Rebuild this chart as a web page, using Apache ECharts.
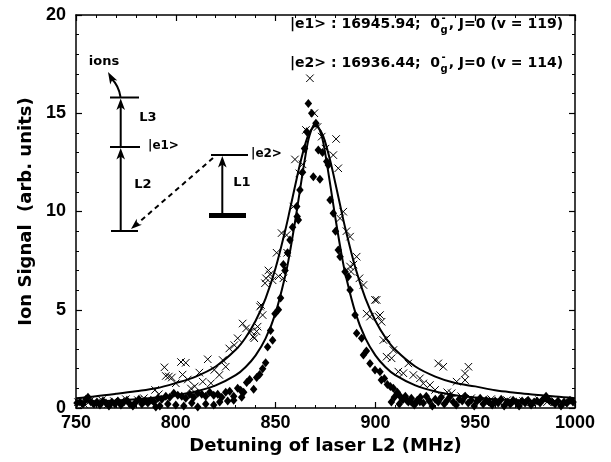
<!DOCTYPE html>
<html><head><meta charset="utf-8">
<script src="https://cdn.jsdelivr.net/npm/echarts@6/dist/echarts.min.js"></script>
<style>html,body{margin:0;padding:0;background:#fff}#c{width:611px;height:462px}</style>
</head><body><div id="c"></div>
<script>
// ---- tick labels ----
const xTicks = [750, 800, 850, 900, 950, 1000];
const yTicks = [0, 5, 10, 15, 20];

// ---- measured points: crosses (x) ----
const crossPts = [
[751,0.3],[754,0.2],[757,0.35],[760,0.25],[763,0.4],[766,0.2],[769,0.35],[772,0.3],[775,0.45],[778,0.25],
[781,0.4],[784,0.5],[787,0.35],[789.6,0.92],[791.5,0.7],[794.3,2.07],[795,1.63],[796.5,1.6],[798,1.55],[800,1.26],
[802.6,2.34],[803.4,1.7],[805,2.3],[806,1.45],[807.6,0.99],[809.5,1.1],[811.8,1.8],[813.5,1.34],[816,2.48],[817.6,1.26],
[819.3,1.94],[821.8,1.68],[823.5,2.44],[825,2.1],[826.8,3.03],[829.3,3.2],[831,3.55],[833.5,4.3],[835.2,4.05],[837.7,3.9],
[838.8,3.63],[839.3,3.55],[840.5,3.9],[841,4.14],[842.2,5.16],[842.7,5.24],[843.5,4.73],[844.7,6.35],[845.2,6.6],[846.4,7.0],
[847.2,6.8],[848.5,6.5],[850.5,7.9],[851.5,6.7],[853,8.9],[853.9,6.6],[855.5,8.8],[855.8,7.9],[858.9,10.25],[859.7,12.65],
[861.9,11.94],[863.5,12.4],[865.2,14.15],[867.2,16.78],[869.4,15.0],[871,14.3],[873.1,13.81],[875,13.2],[878.9,12.87],[880.3,13.69],
[881.4,12.2],[882.3,9.65],[883.9,9.99],[885.5,9.0],[887.3,8.72],[887.3,7.2],[889,7.3],[887.8,6.94],[890.6,7.7],[892,6.6],
[894,6.26],[895.6,4.8],[897.3,4.65],[899.8,5.5],[900.6,5.5],[901.5,4.65],[902.3,4.73],[903.1,4.39],[904,3.46],[905.6,3.54],
[905.6,2.61],[908.1,2.53],[909,2.95],[911.5,1.85],[914,1.77],[916.5,2.27],[919,1.68],[922.3,1.51],[924,1.25],[927.3,1.17],
[929.9,0.92],[931.5,2.27],[934,2.1],[936,0.8],[938.2,0.75],[940.7,1.34],[943,0.6],[944.9,1.76],[944.9,1.42],[946.6,2.1],
[948,0.5],[951,0.4],[955,0.3],[958,0.45],[962,0.3],[966,0.4],[970,0.25],[974,0.35],[978,0.3],[982,0.4],
[986,0.3],[990,0.35],[994,0.25],[998,0.3]
];

// ---- measured points: diamonds ----
const diamondPts = [
[750.5,0.25],[752,0.3],[753.5,0.2],[755,0.45],[756,0.55],[757.5,0.3],[759,0.2],[760.5,0.3],[762,0.15],[763.5,0.35],
[765,0.25],[766.5,0.1],[768,0.3],[769.5,0.2],[771,0.35],[772.5,0.15],[774,0.3],[775.5,0.4],[777,0.2],[778.5,0.1],
[780,0.3],[781.5,0.45],[783,0.2],[784.5,0.35],[786,0.25],[787.5,0.4],[789,0.3],[790,0.05],[792,0.1],[796,0.2],
[800,0.15],[804,0.1],[808,0.25],[811,0.05],[815,0.2],[819,0.15],[822,0.3],[826,0.35],[829,0.4],[833,0.55],
[791,0.5],[793,0.45],[795,0.6],[797,0.55],[799,0.75],[801,0.65],[803,0.6],[805,0.5],[807,0.7],[809,0.55],
[811,0.75],[813,0.7],[815,0.6],[817,0.8],[819,0.65],[821,0.7],[823,0.55],[825,0.8],[827,0.85],[829,0.6],
[831,1.0],[832.5,0.9],[834,0.8],[835.5,1.3],[837,1.45],[839,0.95],[840.5,1.55],[842,1.7],[843.5,2.0],[845,2.3],
[846,3.1],[847.5,3.95],[848.5,3.45],[849.7,4.8],[851.4,5.0],[852.5,5.6],[853.9,7.3],[854.7,7.0],[856,7.9],[857.2,8.55],
[858.5,9.2],[860.6,10.25],[860.8,9.74],[861.4,9.57],[862.2,11.1],[863.5,12.0],[864.5,13.2],[865.6,14.06],[866.4,15.5],[868.1,15.0],
[868.9,11.77],[870.2,14.49],[871.4,13.13],[872.2,11.64],[873.5,13.0],[875.6,12.54],[876.4,12.37],[877.3,10.59],[878.9,9.91],[880,9.0],
[881.4,8.04],[882.3,7.7],[884.8,6.94],[886.4,6.68],[887.3,6.0],[889.8,4.73],[890.6,3.8],[893.1,3.55],[894,2.7],[895.5,2.9],
[897.3,2.27],[899.8,1.93],[902.3,1.85],[903,1.42],[904.5,1.5],[906,1.2],[907.5,1.1],[909,1.0],[911,0.8],[912.5,0.58],
[914,0.45],[915.7,0.4],[918,0.3],[920,0.24],[922.3,0.32],
[908,0.3],[909.5,0.55],[911,0.75],[912,0.2],[913.5,0.45],[915,0.6],[916.5,0.3],[918,0.5],[919.5,0.15],[921,0.4],
[922.5,0.55],[924,0.25],[925.5,0.6],[927,0.35],[928.5,0.1],[930,0.45],[931.5,0.3],[933,0.55],[934.5,0.2],[936,0.4],
[937.5,0.6],[939,0.3],[940.5,0.15],[942,0.45],[943.5,0.35],[945,0.6],[946.5,0.25],[948,0.4],[949.5,0.1],[951,0.35],
[952.5,0.5],[954,0.2],[955.5,0.4],[957,0.3],[958.5,0.15],[960,0.35],[961.5,0.25],[963,0.45],[964.5,0.1],[966,0.3],
[967.5,0.2],[969,0.4],[970.5,0.3],[972,0.1],[973.5,0.35],[975,0.25],[976.5,0.4],[978,0.15],[979.5,0.3],[981,0.35],
[982.5,0.25],[984,0.45],[985.5,0.6],[987,0.4],[988.5,0.3],[990,0.2],[991.5,0.35],[993,0.1],[994.5,0.3],[996,0.25],
[997.5,0.4],[999,0.3]
];

// ---- fitted curves ----
const fitX =       [750,760,770,780,790,800,810,820,830,835,840,845,850,855,857,860,862,865,867,870,873,875,878,880,883,885,890,895,900,905,910,920,930,940,950,960,970,980,990,1000];
const fitCross =   [0.5,0.6,0.72,0.85,1.0,1.27,1.6,2.11,2.96,3.59,4.44,5.58,7.12,9.11,10.01,11.41,12.32,13.48,14.02,14.35,14.02,13.48,12.32,11.41,10.01,9.11,7.12,5.58,4.44,3.59,2.96,2.11,1.6,1.27,1.1,0.9,0.78,0.68,0.58,0.5];
const fitDiamond = [0.29,0.33,0.38,0.44,0.53,0.65,0.84,1.15,1.67,2.09,2.68,3.54,4.84,6.8,7.83,9.64,10.95,12.87,13.87,14.5,13.87,12.87,10.95,9.64,7.83,6.8,4.84,3.54,2.68,2.09,1.67,1.15,0.84,0.65,0.53,0.44,0.4,0.36,0.33,0.3];

const lineCross = fitX.map((x, i) => [x, fitCross[i]]);
const lineDiamond = fitX.map((x, i) => [x, fitDiamond[i]]);

const BOLD = 'bold';
const TICKFONT = 'Liberation Sans';
const NAMEFONT = 'DejaVu Sans';

function axisBase(isX, main) {
  const t = isX ? xTicks : yTicks;
  return {
    type: 'value',
    min: t[0], max: t[t.length - 1], interval: t[1] - t[0],
    axisLine: { show: true, onZero: false, lineStyle: { color: '#000', width: 1.5 } },
    axisTick: { show: true, inside: true, length: 6, lineStyle: { color: '#000', width: 1.2 } },
    minorTick: { show: true, splitNumber: 5, length: 3, lineStyle: { color: '#000', width: 1 } },
    splitLine: { show: false },
    minorSplitLine: { show: false },
    axisLabel: main ? {
      show: true, color: '#000', fontFamily: TICKFONT, fontWeight: BOLD, fontSize: 18,
      margin: isX ? 6 : 10, showMinLabel: true, showMaxLabel: true,
      formatter: function (v) { return String(v); }
    } : { show: false }
  };
}

const chart = echarts.init(document.getElementById('c'), null, { renderer: 'canvas' });

function measure(text, font) {
  const cv = document.createElement('canvas').getContext('2d');
  cv.font = font;
  return cv.measureText(text).width;
}

function stateLine(y, left, rest) {
  const fMain = 'bold 14px "DejaVu Sans"';
  const fSmall = 'bold 10px "DejaVu Sans"';
  const x0 = 290;
  const wA = measure(left, fMain);
  const wg = measure('g', fSmall);
  const els = [];
  els.push({ type: 'text', z: 100, style: { text: left, x: x0, y: y, font: fMain, fill: '#000', textAlign: 'left', textVerticalAlign: 'middle', verticalAlign: 'middle' } });
  els.push({ type: 'text', z: 100, style: { text: 'g', x: x0 + wA + 0.5, y: y + 6, font: fSmall, fill: '#000', textAlign: 'left', textVerticalAlign: 'middle', verticalAlign: 'middle' } });
  els.push({ type: 'text', z: 100, style: { text: '-', x: x0 + wA + 1.5, y: y - 6, font: fSmall, fill: '#000', textAlign: 'left', textVerticalAlign: 'middle', verticalAlign: 'middle' } });
  els.push({ type: 'text', z: 100, style: { text: rest, x: x0 + wA + wg + 1.5, y: y, font: fMain, fill: '#000', textAlign: 'left', textVerticalAlign: 'middle', verticalAlign: 'middle' } });
  return els;
}

function txt(text, x, y, size, align) {
  return { type: 'text', z: 100, style: { text: text, x: x, y: y, font: 'bold ' + size + 'px "DejaVu Sans"', fill: '#000', textAlign: align || 'center', textVerticalAlign: 'middle', verticalAlign: 'middle' } };
}
function seg(x1, y1, x2, y2, w, dash) {
  return { type: 'line', z: 100, shape: { x1, y1, x2, y2 }, style: { stroke: '#000', lineWidth: w || 2, lineDash: dash || null } };
}
function head(points) {
  return { type: 'polygon', z: 101, shape: { points: points }, style: { fill: '#000' } };
}

const inset = [
  txt('ions', 104, 62, 13),
  { type: 'bezierCurve', z: 100, shape: { x1: 120.5, y1: 97, x2: 111, y2: 78, cpx1: 119, cpy1: 86 }, style: { stroke: '#000', lineWidth: 2, fill: null } },
  head([[108, 72], [117.3, 80.5], [112.3, 79.8], [110.2, 84.5]]),
  seg(110, 97.5, 139, 97.5, 2),
  seg(110, 147, 140, 147, 2),
  seg(111, 231, 138, 231, 2),
  seg(211, 155, 248, 155, 2),
  seg(209, 215.5, 246, 215.5, 5),
  seg(120.7, 147, 120.7, 104, 2),
  head([[120.7, 98.5], [125, 110], [120.7, 107], [116.4, 110]]),
  seg(120.7, 231, 120.7, 154, 2),
  head([[120.7, 148], [125, 159.5], [120.7, 156.5], [116.4, 159.5]]),
  seg(222.3, 213, 222.3, 162, 2),
  head([[222.3, 156], [226.6, 167.5], [222.3, 164.5], [218, 167.5]]),
  seg(213, 158, 137, 224, 2, [5, 4]),
  head([[131, 229], [141.9, 224.8], [137, 223.8], [136.7, 218.8]]),
  txt('L3', 148, 118, 13),
  txt('|e1>', 148, 146, 12, 'left'),
  txt('L2', 143, 185, 13),
  txt('|e2>', 251, 154, 12, 'left'),
  txt('L1', 242, 183, 13)
];

const graphics = inset
  .concat(stateLine(24, '|e1> : 16945.94;  0', ', J=0 (v = 119)'))
  .concat(stateLine(63, '|e2> : 16936.44;  0', ', J=0 (v = 114)'));

const option = {
  animation: false,
  backgroundColor: '#fff',
  grid: { left: 76, right: 36, top: 15, bottom: 54, containLabel: false },
  xAxis: [
    Object.assign(axisBase(true, true), {
      position: 'bottom',
      name: 'Detuning of laser L2 (MHz)', nameLocation: 'middle', nameGap: 29,
      nameTextStyle: { color: '#000', fontFamily: NAMEFONT, fontWeight: BOLD, fontSize: 18 }
    }),
    Object.assign(axisBase(true, false), { position: 'top' })
  ],
  yAxis: [
    Object.assign(axisBase(false, true), {
      position: 'left',
      name: 'Ion Signal  (arb. units)', nameLocation: 'middle', nameGap: 34,
      nameTextStyle: { color: '#000', fontFamily: NAMEFONT, fontWeight: BOLD, fontSize: 18 }
    }),
    Object.assign(axisBase(false, false), { position: 'right' })
  ],
  series: [
    {
      type: 'scatter', name: 'crosses', data: crossPts,
      symbol: 'path://M0,0L10,10M10,0L0,10', symbolSize: 7.5,
      itemStyle: { color: 'none', borderColor: '#000', borderWidth: 1, opacity: 1 }, z: 3
    },
    {
      type: 'scatter', name: 'diamonds', data: diamondPts,
      symbol: 'diamond', symbolSize: [7.5, 9],
      itemStyle: { color: '#000', opacity: 1 }, z: 4
    },
    {
      type: 'line', name: 'fit crosses', data: lineCross, smooth: 0.35, showSymbol: false,
      lineStyle: { color: '#000', width: 2 }, z: 5
    },
    {
      type: 'line', name: 'fit diamonds', data: lineDiamond, smooth: 0.35, showSymbol: false,
      lineStyle: { color: '#000', width: 2 }, z: 5
    }
  ],
  graphic: { elements: graphics }
};
chart.setOption(option);
</script>
</body></html>
